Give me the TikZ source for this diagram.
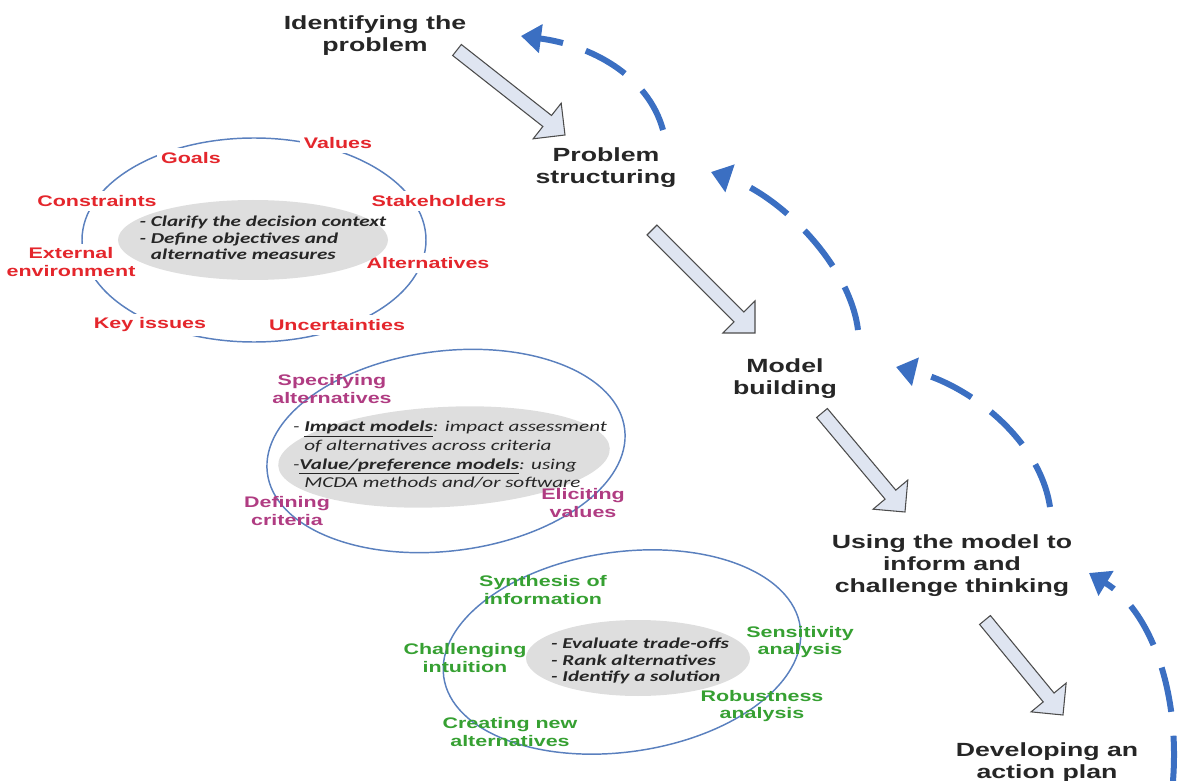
\documentclass[tikz,border=0pt]{standalone}
\usepackage{fontspec}
\setmainfont{Liberation Sans}
\newfontfamily\wideface[FakeStretch=1.4]{Liberation Sans}
\newfontfamily\noteface[FakeStretch=1.4]{Carlito}
\usepackage{xcolor}
\usetikzlibrary{arrows.meta,calc}

\definecolor{lblred}{HTML}{E4262C}
\definecolor{lblpurple}{HTML}{B03C82}
\definecolor{lblgreen}{HTML}{36A032}
\definecolor{ringblue}{HTML}{5A80BE}
\definecolor{loopblue}{HTML}{3B6FC2}
\definecolor{coregray}{HTML}{DEDEDE}
\definecolor{arrowfill}{HTML}{DFE5F1}

\tikzset{
  stage/.style={font=\wideface\bfseries\fontsize{14.3}{16.5}\selectfont, align=center, text=black!85},
  issue/.style={font=\wideface\bfseries\fontsize{11.5}{12.8}\selectfont, align=center, inner sep=3pt},
  ring/.style={draw=ringblue, line width=1.1pt},
  note/.style={font=\noteface\itshape\fontsize{11.3}{14}\selectfont, align=left, text=black!85},
  boldnote/.style={font=\noteface\bfseries\itshape\fontsize{11.3}{12.2}\selectfont, align=left, text=black!85},
  hollow/.style={draw=black!70, fill=arrowfill, line width=0.8pt},
  loopback/.style={draw=loopblue, line width=4.5pt, dash pattern=on 34pt off 18pt,
    -{Triangle[length=15pt,width=21pt]}}
}

\begin{document}
\begin{tikzpicture}[x=0.75pt, y=-0.75pt]
  \useasboundingbox (0,0) rectangle (1183,781);

  % stages
  \node[stage] (ident) at (375,36) {Identifying the\\problem};
  \node[stage] (struct) at (606,168) {Problem\\structuring};
  \node[stage] (model) at (785,379) {Model\\building};
  \node[stage] (using) at (952,566) {Using the model to\\inform and\\challenge thinking};
  \node[stage] (action) at (1047,763) {Developing an\\action plan};

  % hollow arrows between stages
  \coordinate (a1s) at (457,50);   \coordinate (a1t) at (565,135);
  \coordinate (a2s) at (652,230);  \coordinate (a2t) at (755,333);
  \coordinate (a3s) at (822,413);  \coordinate (a3t) at (905,512);
  \coordinate (a4s) at (985,620);  \coordinate (a4t) at (1063,715);
  \foreach \s/\t in {a1s/a1t, a2s/a2t, a3s/a3t, a4s/a4t}{
    \coordinate (h) at ($(\t)!17pt!(\s)$);
    \draw[hollow] ($(\s)!5.25pt!90:(\t)$) -- ($(h)!5.25pt!90:(\t)$)
      -- ($(h)!17pt!90:(\t)$) -- (\t) -- ($(h)!17pt!-90:(\t)$)
      -- ($(h)!5.25pt!-90:(\t)$) -- ($(\s)!5.25pt!-90:(\t)$) -- cycle;
  }

  % dashed loops back
  \coordinate (b1s) at (663,130);   \coordinate (b1t) at (521,36);
  \coordinate (b2s) at (858,330);   \coordinate (b2t) at (711,172);
  \coordinate (b3s) at (1050,507);  \coordinate (b3t) at (896,367);
  \coordinate (b4s) at (1173,781);  \coordinate (b4t) at (1089,573);
  \draw[loopback] (b1s) .. controls (648,75) and (590,45) .. (b1t);
  \draw[loopback] (b2s) .. controls (850,265) and (780,195) .. (b2t);
  \draw[loopback] (b3s) .. controls (1040,440) and (970,385) .. (b3t);
  \draw[loopback] (b4s) .. controls (1180,690) and (1150,610) .. (b4t);

  % problem structuring ring
  \draw[ring] (254,240) ellipse (172 and 102);
  \node[issue, text=lblred, fill=white] (values) at (338,143) {Values};
  \node[issue, text=lblred, fill=white] (goals) at (191,158) {Goals};
  \node[issue, text=lblred, fill=white] (constr) at (97,201) {Constraints};
  \node[issue, text=lblred, fill=white] (stake) at (439,201) {Stakeholders};
  \node[issue, text=lblred, fill=white] (extern) at (71,262) {External\\environment};
  \node[issue, text=lblred, fill=white] (altern) at (428,263) {Alternatives};
  \node[issue, text=lblred, fill=white] (keyiss) at (150,325) {Key issues};
  \node[issue, text=lblred, fill=white] (uncert) at (337,325) {Uncertainties};
  \fill[coregray] (253,240) ellipse (135 and 40);
  \node[boldnote] (clarify) at (263,238) {- Clarify the decision context\\- Define objectives and\\\phantom{- }alternative measures};

  % model building ring
  \fill[coregray, rotate around={3:(444,457)}] (444,457) ellipse (166 and 50);
  \draw[ring, rotate around={7:(446,451)}] (446,451) ellipse (180 and 100);
  \node[issue, text=lblpurple] (specif) at (332,389) {Specifying\\alternatives};
  \node[issue, text=lblpurple] (defcrit) at (287,511) {Defining\\criteria};
  \node[note] (models) at (450,455) {- \underline{\textbf{Impact models}}: impact assessment\\\phantom{- }of alternatives across criteria\\-\underline{\textbf{Value/preference models}}: using\\\phantom{- }MCDA methods and/or software};
  \node[issue, text=lblpurple] (elicit) at (583,503) {Eliciting\\values};

  % using the model ring
  \fill[coregray] (638,658) ellipse (112 and 38);
  \draw[ring, rotate around={8:(622,652)}] (622,652) ellipse (180 and 100);
  \node[issue, text=lblgreen] (synth) at (543,590) {Synthesis of\\information};
  \node[issue, text=lblgreen] (challenge) at (465,658) {Challenging\\intuition};
  \node[issue, text=lblgreen] (sensit) at (800,642) {Sensitivity\\analysis};
  \node[issue, text=lblgreen] (robust) at (762,706) {Robustness\\analysis};
  \node[issue, text=lblgreen] (create) at (510,732) {Creating new\\alternatives};
  \node[boldnote] (evaluate) at (640,661) {- Evaluate trade-offs\\- Rank alternatives\\- Identify a solution};
\end{tikzpicture}
\end{document}
